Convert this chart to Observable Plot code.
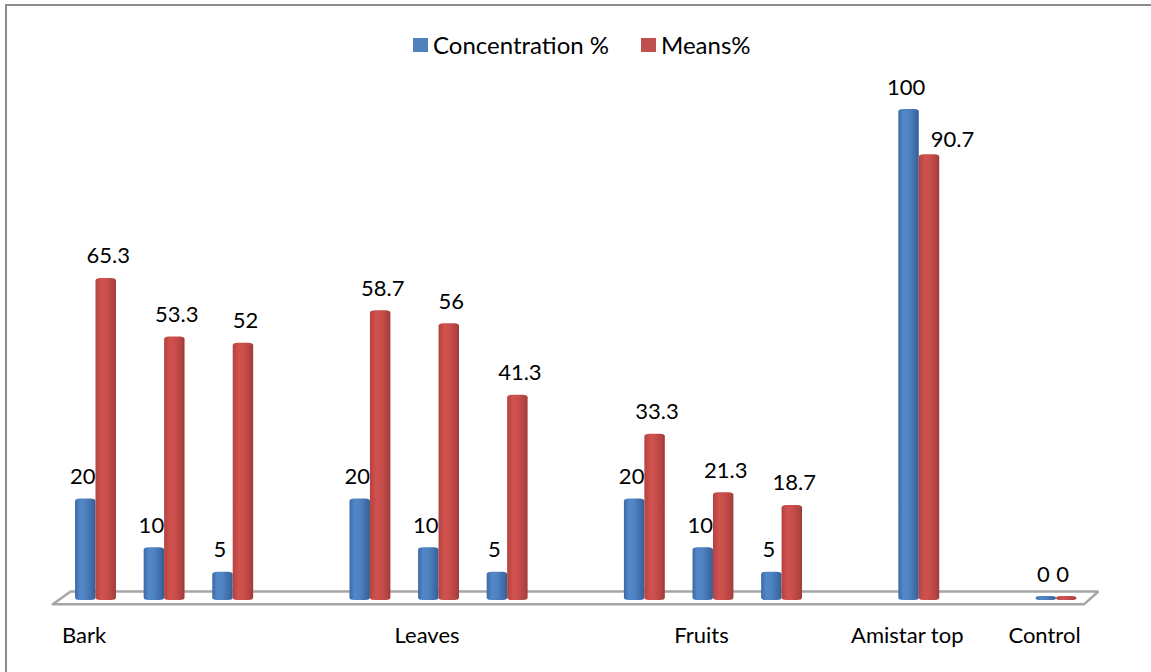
<!DOCTYPE html>
<html>
<head>
<meta charset="utf-8">
<script src="https://cdn.jsdelivr.net/npm/d3@7"></script>
<script src="https://cdn.jsdelivr.net/npm/@observablehq/plot@0.6"></script>
<style>
  html, body { margin: 0; padding: 0; background: #fff; overflow: hidden; }
  #chart { position: relative; width: 1151px; height: 672px; font-family: Lato, "Open Sans", sans-serif; }
  #frame { position: absolute; left: 5px; top: 4px; width: 1170px; height: 690px; border: 2px solid #8c8c8c; box-sizing: border-box; pointer-events: none; }
  #legend { position: absolute; top: 30px; left: 413px; display: flex; align-items: center; font-size: 24px; color: #000; }
  #legend .item { display: flex; align-items: center; margin-right: 32px; }
  #legend .swatch { width: 15px; height: 14px; margin-right: 5px; }
  #plot { position: absolute; left: 0; top: 0; }
</style>
</head>
<body>
<div id="chart">
  <div id="frame"></div>
  <div id="plot"></div>
  <div id="legend"></div>
</div>
<script>
// One row per category slot; empty slots separate the plant-part groups.
const categoryLabels = ["Bark", "", "", "", "", "Leaves", "", "", "", "Fruits", "", "", "Amistar top", "", "Control"];
const concentration = [20, 10, 5, null, 20, 10, 5, null, 20, 10, 5, null, 100, null, 0];
const means = [65.3, 53.3, 52, null, 58.7, 56, 41.3, null, 33.3, 21.3, 18.7, null, 90.7, null, 0];

const seriesNames = ["Concentration %", "Means%"];
const seriesColors = ["#4f81bd", "#c0504d"];

const rows = categoryLabels.map((label, i) => ({ i, label, conc: concentration[i], mean: means[i] }));
const bars = rows.filter(d => d.conc !== null);
const labelledSlots = rows.filter(d => d.label !== "").map(d => d.i);

// Width of each column, in category-slot units.
const w = 0.298;

// Perspective floor under the columns (x in slots, y in value units).
const floor = [
  { x: -0.63, y: -1.2 }, { x: -0.37, y: 1.44 },
  { x: 14.61, y: 1.44 }, { x: 14.4, y: -1.2 }, { x: -0.63, y: -1.2 }
];

const isOffset = d => d.label === "Amistar top";
const isZero = d => d.label === "Control";

const plot = Plot.plot({
  width: 1151,
  height: 672,
  marginLeft: 95.5,
  marginRight: 95,
  marginTop: 111,
  marginBottom: 74,
  style: { fontFamily: "Lato, 'Open Sans', sans-serif", background: "transparent", overflow: "visible" },
  x: { type: "linear", domain: [0, 14], label: null },
  y: { domain: [0, 100], axis: null },
  marks: [
    Plot.line(floor, { x: "x", y: "y", stroke: "#a6a6a6", strokeWidth: 2.5, fill: "#fff", strokeLinejoin: "miter" }),
    Plot.rectY(bars, {
      x1: d => d.i - w, x2: d => d.i, y1: 0, y2: "conc",
      fill: "url(#gBlue)", rx: 5, ry: 2.5, insetTop: -2, insetBottom: -2
    }),
    Plot.rectY(bars, {
      x1: d => d.i, x2: d => d.i + w, y1: 0, y2: "mean",
      fill: "url(#gRed)", rx: 5, ry: 2.5, insetTop: -2, insetBottom: -2
    }),
    Plot.text(bars, {
      x: d => d.i - w / 2, y: "conc", text: d => String(d.conc),
      dx: -3, dy: -17, lineAnchor: "bottom", fontSize: 22, fill: "#000"
    }),
    Plot.text(bars.filter(d => !isOffset(d) && !isZero(d)), {
      x: d => d.i + w / 2, y: "mean", text: d => String(d.mean),
      dx: 2, dy: -17, lineAnchor: "bottom", fontSize: 22, fill: "#000"
    }),
    Plot.text(bars.filter(isZero), {
      x: d => d.i + w / 2, y: "mean", text: d => String(d.mean),
      dx: -4, dy: -17, lineAnchor: "bottom", fontSize: 22, fill: "#000"
    }),
    Plot.text(bars.filter(isOffset), {
      x: d => d.i + w / 2, y: "mean", text: d => String(d.mean),
      dx: 23, dy: -10, lineAnchor: "bottom", fontSize: 22, fill: "#000"
    }),
    Plot.axisX({
      ticks: labelledSlots, tickFormat: i => categoryLabels[i], label: null,
      tickSize: 0, tickPadding: 29, fontSize: 22, dx: -12, fill: "#000"
    })
  ]
});

// Cylinder shading for the columns.
const svg = d3.select(plot);
const defs = svg.insert("defs", ":first-child");
function cylinder(id, stops) {
  const g = defs.append("linearGradient").attr("id", id)
    .attr("x1", "0").attr("x2", "1").attr("y1", "0").attr("y2", "0");
  stops.forEach(([o, c]) => g.append("stop").attr("offset", o).attr("stop-color", c));
}
cylinder("gBlue", [[0, "#3c69a6"], [0.25, "#5288c9"], [0.5, "#4f83c2"], [0.85, "#3e6aa6"], [1, "#345c92"]]);
cylinder("gRed", [[0, "#b4423f"], [0.3, "#d0524f"], [0.55, "#c84e4b"], [0.85, "#b24340"], [1, "#9e3936"]]);

document.getElementById("plot").appendChild(plot);

// Legend above the plot.
const legend = d3.select("#legend");
seriesNames.forEach((name, k) => {
  const item = legend.append("div").attr("class", "item");
  item.append("div").attr("class", "swatch").style("background", seriesColors[k]);
  item.append("span").text(name);
});
</script>
</body>
</html>
